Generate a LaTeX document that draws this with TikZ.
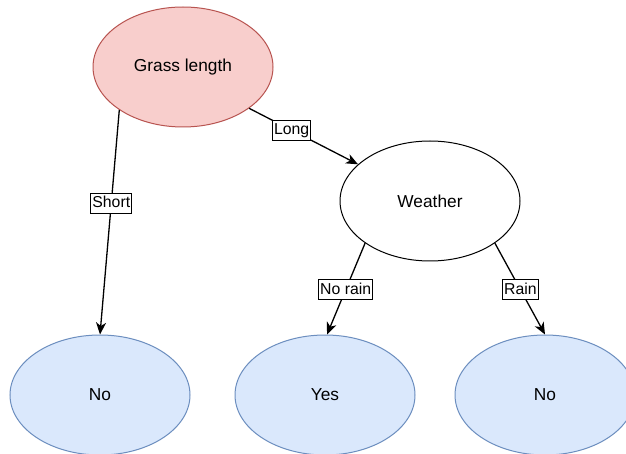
\documentclass[tikz,border=0pt]{standalone}
\usepackage{fontspec}
\setmainfont{Liberation Sans}
\usetikzlibrary{arrows.meta,shapes.geometric}
\definecolor{redfill}{HTML}{F8CECC}
\definecolor{redline}{HTML}{B85450}
\definecolor{bluefill}{HTML}{DAE8FC}
\definecolor{blueline}{HTML}{6C8EBF}
\begin{document}
\begin{tikzpicture}[x=1pt,y=-1pt,
  ell/.style={ellipse, minimum width=180pt, minimum height=120pt, inner sep=0pt,
    line width=1pt, font=\fontsize{17.3}{20}\selectfont},
  redell/.style={ell, fill=redfill, draw=redline},
  blueell/.style={ell, fill=bluefill, draw=blueline},
  plainell/.style={ell, fill=white, draw=black},
  conn/.style={line width=1.3pt, -{Stealth[length=12pt,width=10pt,inset=3.5pt]}},
  lab/.style={draw=black, fill=white, line width=0.9pt, inner xsep=1.5pt, inner ysep=2pt,
    text height=12.5pt, text depth=3.5pt, font=\fontsize{15.8}{18}\selectfont}
]
\useasboundingbox (0,0) rectangle (626,454);
\fill[white] (0,0) rectangle (626,454);
\node[redell] (g) at (183,67) {Grass length};
\node[plainell] (w) at (430,201) {Weather};
\node[blueell] (n1) at (100,395) {No};
\node[blueell] (y) at (325,395) {Yes};
\node[blueell] (n2) at (545,395) {No};
\draw[conn] (g.214.5) -- (n1.north) node[lab, pos=0.415] {Short};
\draw[conn] (g.-32.7) -- (w.153.4) node[lab, pos=0.39] {Long};
\draw[conn] (w.213.3) -- ([xshift=2pt]y.north) node[lab, pos=0.51] {No rain};
\draw[conn] (w.-33.7) -- (n2.north) node[lab, pos=0.51] {Rain};
\end{tikzpicture}
\end{document}
